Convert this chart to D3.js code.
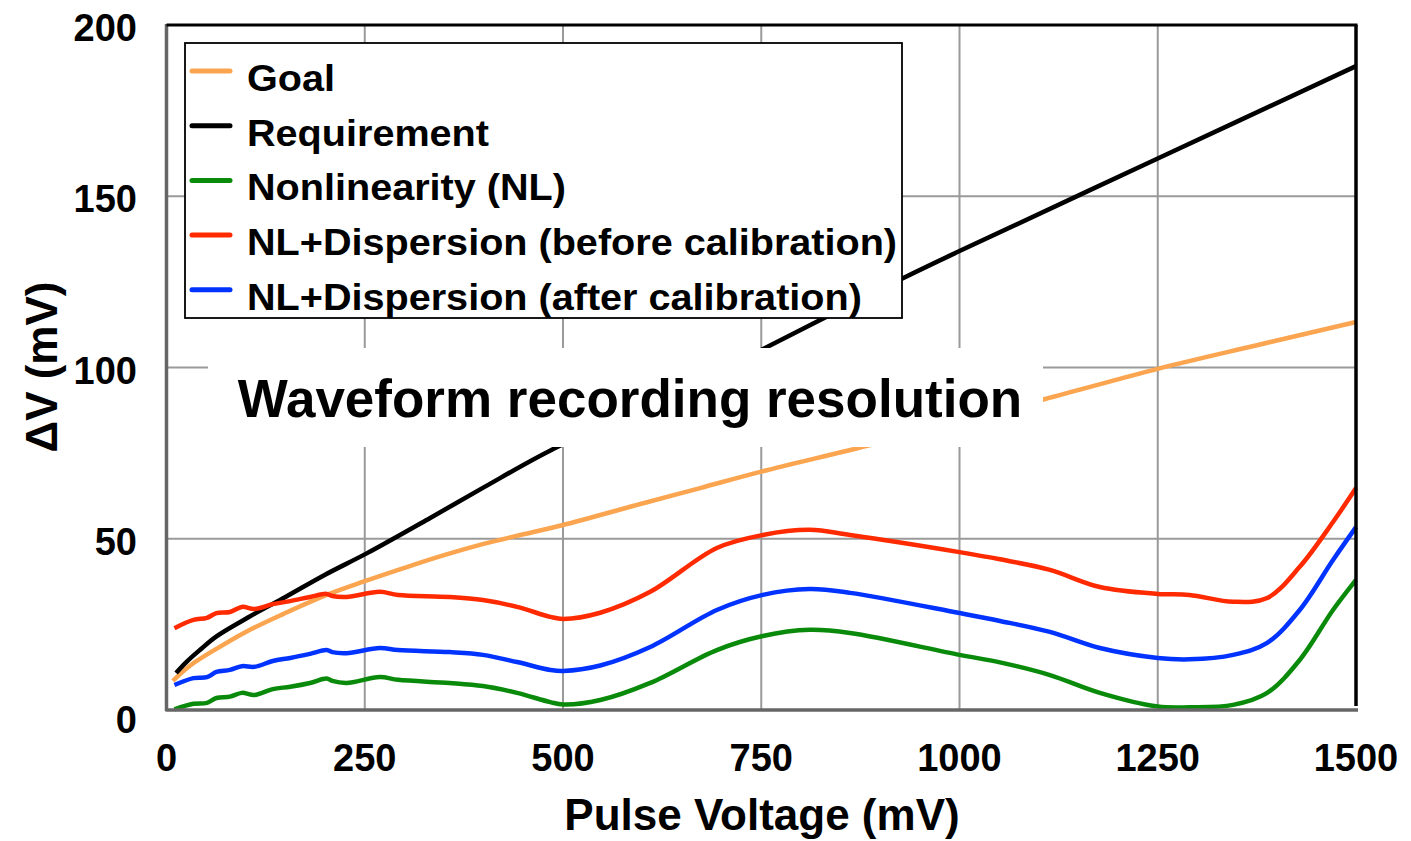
<!DOCTYPE html>
<html>
<head>
<meta charset="utf-8">
<script src="https://cdn.jsdelivr.net/npm/d3@7"></script>
<style>
  html, body { margin: 0; padding: 0; background: #fff; }
  svg text { font-family: "Liberation Sans", Arial, Helvetica, sans-serif; font-weight: bold; fill: #000; }
</style>
</head>
<body>
<svg id="chart" width="1411" height="841"></svg>
<script>
// Pulse voltage samples (mV) shared by the three nonlinearity curves
const pulseX = [10, 34, 51, 63, 80, 95, 111, 134, 156, 181, 202, 209, 227, 269, 292, 357, 399, 442, 484, 500,
  547, 610, 694, 752, 811, 862, 1000, 1051, 1114, 1177, 1250, 1290, 1345, 1388, 1429, 1471, 1500];

// Nonlinearity (NL)
const nlValues = [0.2, 1.8, 2.1, 3.5, 3.9, 5.0, 4.4, 6.1, 6.8, 7.9, 9.2, 8.5, 7.9, 9.6, 8.8, 7.9, 7.0, 5.0, 2.3, 1.6,
  2.9, 7.9, 17.5, 21.6, 23.4, 22.5, 16.1, 13.9, 10.2, 5.0, 1.0, 0.8, 1.5, 5.0, 14.6, 29.2, 38.0];

// NL + dispersion, before calibration
const beforeCalValues = [23.9, 26.3, 26.9, 28.3, 28.6, 30.1, 29.5, 30.9, 31.8, 33.0, 33.9, 33.3, 33.0, 34.5, 33.6, 33.0, 32.1, 30.1, 27.2, 26.6,
  28.4, 34.5, 47.3, 51.1, 52.6, 51.1, 46.1, 44.0, 40.9, 35.9, 33.9, 33.6, 31.6, 32.7, 41.8, 54.9, 64.8];

// NL + dispersion, after calibration
const afterCalValues = [7.3, 9.3, 9.6, 11.1, 11.7, 12.8, 12.6, 14.3, 15.2, 16.4, 17.5, 16.9, 16.6, 18.1, 17.5, 16.9, 16.1, 14.0, 11.7, 11.4,
  13.0, 18.4, 29.2, 33.6, 35.3, 34.2, 28.3, 26.0, 22.8, 18.1, 15.2, 14.8, 16.1, 19.6, 29.2, 43.8, 53.4];

// Goal
const goalX = [8, 30, 64, 100, 147, 202, 250, 300, 350, 400, 450, 500, 600, 673, 750, 891, 1000, 1108, 1250, 1375, 1500];
const goalValues = [8.5, 13.0, 18.0, 22.8, 28.0, 33.6, 37.6, 41.5, 45.2, 48.5, 51.3, 54.0, 60.3, 64.8, 69.6, 77.6, 84.4, 90.8, 99.6, 106.5, 113.3];

// Requirement
const reqX = [12, 25, 42, 63, 105, 150, 200, 253, 332, 400, 486, 600, 753, 928, 1000, 1250, 1500];
const reqValues = [10.8, 14.0, 17.5, 21.5, 27.3, 33.0, 39.5, 45.8, 56.0, 65.0, 76.0, 88.0, 105.5, 126.0, 134.0, 161.0, 188.0];

const xTicks = [0, 250, 500, 750, 1000, 1250, 1500];
const yTicks = [0, 50, 100, 150, 200];

const legendLabels = ["Goal", "Requirement", "Nonlinearity (NL)",
  "NL+Dispersion (before calibration)", "NL+Dispersion (after calibration)"];
const seriesColors = ["#FBA550", "#000000", "#0A8A0A", "#FF2A00", "#0033FF"];

const titleText = "Waveform recording resolution";
const xTitle = "Pulse Voltage (mV)";
const yTitle = "\u0394V (mV)";

const svg = d3.select("#chart");

const x = d3.scaleLinear().domain([0, 1500]).range([166.5, 1356]);
const y = d3.scaleLinear().domain([0, 200]).range([710, 25]);

// grid
const grid = svg.append("g");
grid.selectAll("line.vx").data(xTicks.slice(1, -1)).join("line")
  .attr("x1", d => x(d)).attr("x2", d => x(d))
  .attr("y1", y(0)).attr("y2", y(200))
  .attr("stroke", "#9a9a9a").attr("stroke-width", 2);
grid.selectAll("line.hy").data(yTicks.slice(1, -1)).join("line")
  .attr("x1", x(0)).attr("x2", x(1500))
  .attr("y1", d => y(d)).attr("y2", d => y(d))
  .attr("stroke", "#9a9a9a").attr("stroke-width", 2);

// series
const line = d3.line()
  .x(d => x(d[0])).y(d => y(d[1]))
  .curve(d3.curveCatmullRom.alpha(0.5));

const seriesData = [
  d3.zip(goalX, goalValues),
  d3.zip(reqX, reqValues),
  d3.zip(pulseX, nlValues),
  d3.zip(pulseX, beforeCalValues),
  d3.zip(pulseX, afterCalValues)
];

svg.append("g").selectAll("path").data(seriesData).join("path")
  .attr("d", d => line(d))
  .attr("fill", "none")
  .attr("stroke", (d, i) => seriesColors[i])
  .attr("stroke-width", 4.5)
  .attr("stroke-linejoin", "round");

// frame: axes on left/bottom, black border top/right
svg.append("line").attr("x1", x(0)).attr("x2", x(0)).attr("y1", y(200) - 1).attr("y2", y(0) + 1)
  .attr("stroke", "#666").attr("stroke-width", 3.5);
svg.append("line").attr("x1", x(0) - 1).attr("x2", x(1500) + 2).attr("y1", y(0)).attr("y2", y(0))
  .attr("stroke", "#666").attr("stroke-width", 3.5);
svg.append("line").attr("x1", x(0)).attr("x2", x(1500) + 1.5).attr("y1", y(200)).attr("y2", y(200))
  .attr("stroke", "#000").attr("stroke-width", 3);
svg.append("line").attr("x1", x(1500)).attr("x2", x(1500)).attr("y1", y(200)).attr("y2", y(0) - 4)
  .attr("stroke", "#000").attr("stroke-width", 3.5);

// tick labels
svg.append("g").selectAll("text").data(xTicks).join("text")
  .attr("x", d => x(d)).attr("y", 771)
  .attr("text-anchor", "middle").attr("font-size", 38)
  .text(d => d);
svg.append("g").selectAll("text").data(yTicks).join("text")
  .attr("x", 137).attr("y", d => y(d) + (d === 0 ? 23 : 16))
  .attr("text-anchor", "end").attr("font-size", 38)
  .text(d => d);

// axis titles
svg.append("text").attr("x", 762).attr("y", 830)
  .attr("text-anchor", "middle").attr("font-size", 44).text(xTitle);
svg.append("text").attr("transform", "translate(57,367) rotate(-90)")
  .attr("text-anchor", "middle").attr("font-size", 44).text(yTitle);

// centre annotation on a white panel
svg.append("rect").attr("x", 208).attr("y", 348).attr("width", 835).attr("height", 99).attr("fill", "#fff");
svg.append("text").attr("x", 630).attr("y", 417)
  .attr("text-anchor", "middle").attr("font-size", 53).text(titleText);

// legend
const legend = svg.append("g");
legend.append("rect").attr("x", 185).attr("y", 43).attr("width", 717).attr("height", 275)
  .attr("fill", "#fff").attr("stroke", "#000").attr("stroke-width", 1.8);
const rows = legend.selectAll("g.row").data(legendLabels).join("g")
  .attr("transform", (d, i) => `translate(0,${71 + i * 54.7})`);
rows.append("line").attr("x1", 192).attr("x2", 230).attr("y1", 0).attr("y2", 0)
  .attr("stroke", (d, i) => seriesColors[i]).attr("stroke-width", 5).attr("stroke-linecap", "round");
rows.append("text").attr("x", 247).attr("y", 20).attr("font-size", 37).text(d => d)
  .each(function () {
    // legend lettering runs slightly wider than the default face
    const w = this.getComputedTextLength();
    d3.select(this).attr("textLength", w * 1.07).attr("lengthAdjust", "spacingAndGlyphs");
  });
</script>
</body>
</html>
